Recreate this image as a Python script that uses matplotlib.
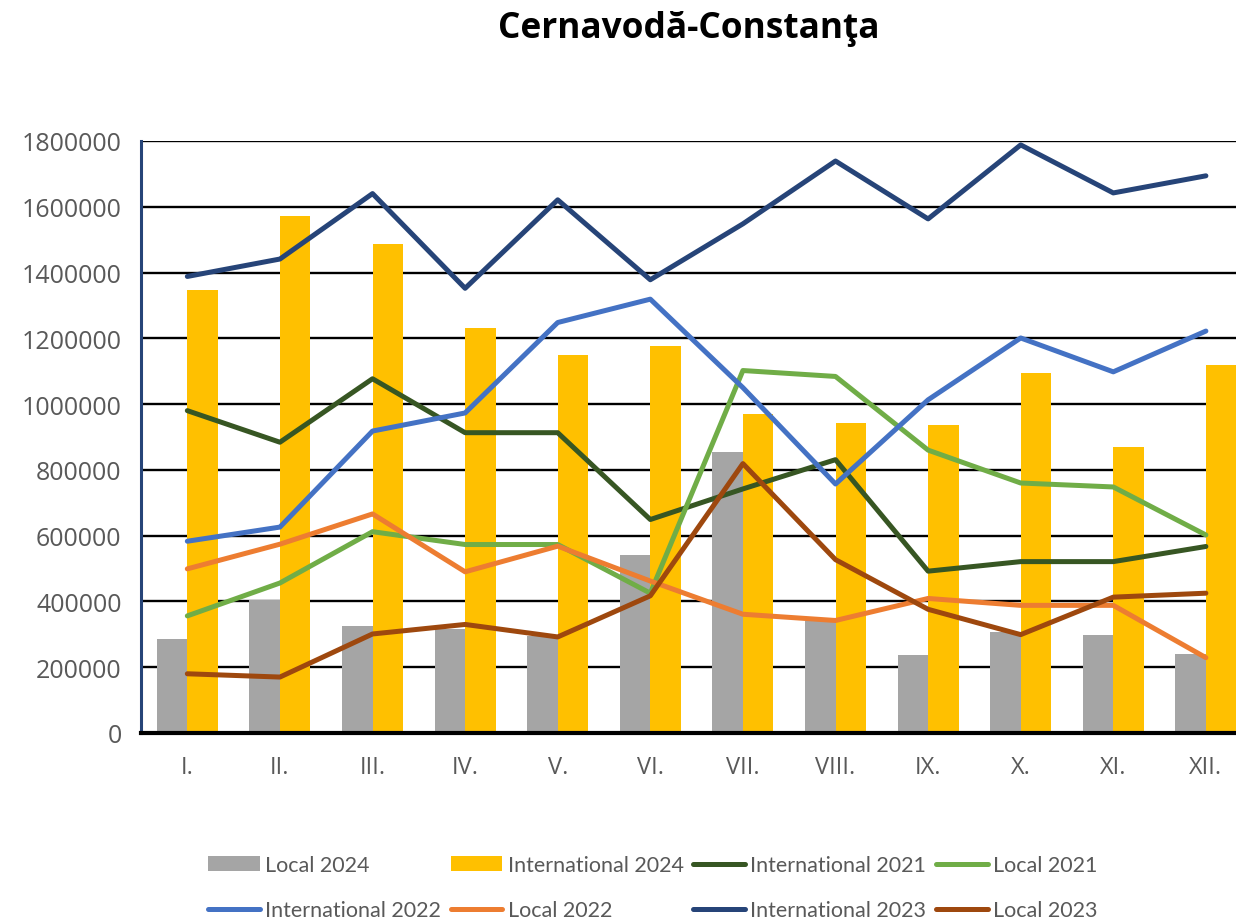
import matplotlib.pyplot as plt
import numpy as np

months = ["I.", "II.", "III.", "IV.", "V.", "VI.", "VII.", "VIII.", "IX.", "X.", "XI.", "XII."]

local_2024 = [285000, 403000, 326000, 316000, 295000, 540000, 853000, 341000, 236000, 306000, 299000, 239000]
intl_2024 = [1348000, 1573000, 1487000, 1231000, 1150000, 1178000, 971000, 943000, 937000, 1093000, 871000, 1118000]
intl_2021 = [980000, 884000, 1077000, 913000, 913000, 649000, 742000, 831000, 492000, 521000, 521000, 567000]
local_2021 = [356000, 456000, 612000, 573000, 573000, 425000, 1102000, 1084000, 860000, 760000, 748000, 602000]
intl_2022 = [583000, 626000, 918000, 973000, 1248000, 1319000, 1050000, 757000, 1013000, 1201000, 1098000, 1222000]
local_2022 = [499000, 574000, 666000, 490000, 568000, 462000, 361000, 342000, 409000, 388000, 388000, 229000]
intl_2023 = [1388000, 1441000, 1640000, 1352000, 1621000, 1378000, 1548000, 1739000, 1563000, 1788000, 1642000, 1694000]
local_2023 = [180000, 170000, 301000, 330000, 292000, 417000, 819000, 527000, 376000, 299000, 413000, 425000]

y_ticks = list(range(0, 1800001, 200000))

fig = plt.figure(figsize=(12.36, 9.2), dpi=100)
# plot area runs past the right edge, as in the original
ax = fig.add_axes([0.1141, 0.2022, 0.899, 0.6435])

x = np.arange(len(months))
w = 0.33
b1 = ax.bar(x - w / 2, local_2024, width=w, color="#A5A5A5", label="Local 2024", zorder=2)
b2 = ax.bar(x + w / 2, intl_2024, width=w, color="#FFC000", label="International 2024", zorder=2)

lw = 3.6
style = dict(lw=lw, zorder=3, solid_capstyle="round")
l1, = ax.plot(x, intl_2021, color="#375623", label="International 2021", **style)
l2, = ax.plot(x, local_2021, color="#70AD47", label="Local 2021", **style)
l3, = ax.plot(x, intl_2022, color="#4472C4", label="International 2022", **style)
l4, = ax.plot(x, local_2022, color="#ED7D31", label="Local 2022", **style)
l5, = ax.plot(x, intl_2023, color="#264478", label="International 2023", **style)
l6, = ax.plot(x, local_2023, color="#9E480E", label="Local 2023", **style)

ax.set_xlim(-0.5, len(months) - 0.5)
ax.set_ylim(0, 1800000)
ax.set_yticks(y_ticks)
ax.set_yticklabels([str(v) for v in y_ticks])
ax.set_xticks(x)
ax.set_xticklabels(months)
ax.tick_params(axis="both", length=0, labelcolor="#595959", labelsize=18)
ax.tick_params(axis="y", pad=14)
ax.tick_params(axis="x", pad=16, labelsize=17)
for lab in ax.get_xticklabels() + ax.get_yticklabels():
    lab.set_fontfamily("Open Sans")

ax.grid(axis="y", color="black", lw=1.7)
ax.set_axisbelow(True)
ax.spines["top"].set_visible(False)
ax.spines["right"].set_visible(False)
ax.spines["left"].set_color("#264478")
ax.spines["left"].set_linewidth(2.2)
ax.spines["bottom"].set_color("black")
ax.spines["bottom"].set_linewidth(3)
ax.spines["bottom"].set_zorder(4)

fig.text(0.557, 0.968, "Cernavodă-Constanţa", ha="center", va="center",
         fontsize=25.4, fontweight="bold", family="Open Sans")

# legend is filled column by column, so interleave the two rows
handles = [b1, l3, b2, l4, l1, l5, l2, l6]
labels = [h.get_label() for h in handles]
fig.legend(handles, labels, ncol=4, loc="upper left", bbox_to_anchor=(0.1683, 0.0695),
           frameon=False, handlelength=2.4, handleheight=0.65, handletextpad=0.25,
           columnspacing=0.45, labelspacing=1.18, borderpad=0, borderaxespad=0,
           labelcolor="#595959", prop={"family": "Lato", "size": 15.5})

fig.savefig("out.png", dpi=100)
